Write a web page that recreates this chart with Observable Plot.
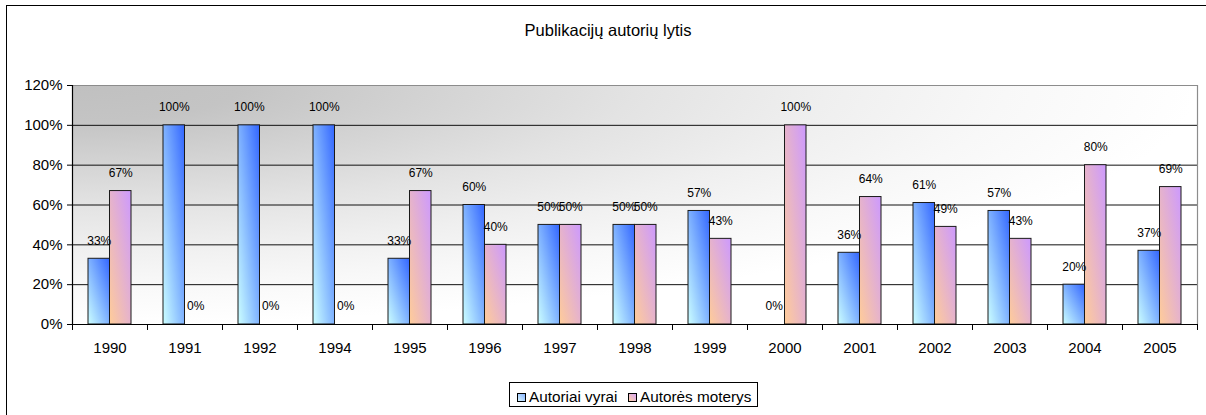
<!DOCTYPE html>
<html>
<head>
<meta charset="utf-8">
<script src="https://cdn.jsdelivr.net/npm/d3@7"></script>
<script src="https://cdn.jsdelivr.net/npm/@observablehq/plot@0.6"></script>
<style>
  body { margin: 0; background: #fff; font-family: "Liberation Sans", Arial, sans-serif; }
  #wrap { position: relative; width: 1206px; height: 415px; overflow: hidden; background: #fff; }
  #chart { position: absolute; left: 0; top: 0; }
  #border { position: absolute; left: 6px; top: 5px; width: 1215px; height: 425px; border: 1.5px solid #000; box-sizing: border-box; pointer-events: none; z-index: 3; }
  #title { position: absolute; left: 0; top: 22px; width: 1216px; text-align: center; font-size: 16.5px; line-height: 16.5px; color: #000; z-index: 2; }
  #legend { position: absolute; left: 509px; top: 382px; width: 249px; height: 25px; border: 1px solid #000; box-sizing: border-box; background: #fff; z-index: 2; }
  .sw { position: absolute; top: 10px; width: 9px; height: 9px; border: 1px solid #000; box-sizing: border-box; }
  .lt { position: absolute; top: 6px; font-size: 15.3px; line-height: 15.3px; white-space: nowrap; color: #000; }
</style>
</head>
<body>
<div id="wrap">
  <div id="chart"></div>
  <div id="title"></div>
  <div id="legend">
    <div class="sw" style="left:7px;background:linear-gradient(45deg,#d6f4ff,#88b4ff);"></div>
    <div class="lt" id="l1" style="left:19px;"></div>
    <div class="sw" style="left:118px;background:linear-gradient(45deg,#ffd0a8,#d8a8f4);"></div>
    <div class="lt" id="l2" style="left:130px;"></div>
  </div>
  <div id="border"></div>
</div>
<script>
// ---- data ----
const title = "Publikacijų autorių lytis";
const seriesNames = ["Autoriai vyrai", "Autorės moterys"];
const years = ["1990","1991","1992","1994","1995","1996","1997","1998","1999","2000","2001","2002","2003","2004","2005"];
const men   = [33, 100, 100, 100, 33, 60, 50, 50, 57, 0, 36, 61, 57, 20, 37];
const women = [67, 0, 0, 0, 67, 40, 50, 50, 43, 100, 64, 49, 43, 80, 69];
const yTicks = [0, 20, 40, 60, 80, 100, 120];
const gridValues = [20, 40, 60, 80, 100];

const data = years.map((y, i) => ({year: y, men: men[i], women: women[i]}));

document.getElementById("title").textContent = title;
document.getElementById("l1").textContent = seriesNames[0];
document.getElementById("l2").textContent = seriesNames[1];

const W = 1206, H = 415;
const mL = 72, mR = 9, mT = 85, mB = 91;
const step = (W - mL - mR) / years.length;   // 75
const half = step / 2;
const pIn = 0.4267, pOut = pIn / 2;
const bw = step * (1 - pIn);
const off = bw / 4;

const chart = Plot.plot({
  width: W,
  height: H,
  marginLeft: mL,
  marginRight: mR,
  marginTop: mT,
  marginBottom: mB,
  style: {background: "transparent", fontFamily: "'Liberation Sans', Arial, sans-serif", color: "#000"},
  x: {type: "band", domain: years, paddingInner: pIn, paddingOuter: pOut, align: 0.5, label: null},
  y: {domain: [0, 120], range: [H - mB, mT], label: null},
  marks: [
    Plot.frame({fill: "url(#bgGrad)", stroke: "none"}),
    Plot.ruleY(gridValues, {stroke: "#111", strokeWidth: 1}),
    Plot.ruleY([120], {stroke: "#8c8c8c", strokeWidth: 1.2}),
    Plot.ruleX([years[years.length - 1]], {dx: half, y1: 0, y2: 120, stroke: "#8c8c8c", strokeWidth: 1.2}),
    Plot.barY(data.filter(d => d.men > 0), {x: "year", y: "men", insetRight: bw / 2, fill: "url(#gMen)", stroke: "#1a1a1a", strokeWidth: 1}),
    Plot.barY(data.filter(d => d.women > 0), {x: "year", y: "women", insetLeft: bw / 2, fill: "url(#gWomen)", stroke: "#1a1a1a", strokeWidth: 1}),
    Plot.text(data, {x: "year", y: "men", text: d => d.men + "%", dx: -off, dy: -18, fontSize: 12, fill: "#000"}),
    Plot.text(data, {x: "year", y: "women", text: d => d.women + "%", dx: off, dy: -18, fontSize: 12, fill: "#000"}),
    Plot.ruleX([years[0]], {dx: -half, y1: 0, y2: 120, stroke: "#000", strokeWidth: 1.2}),
    Plot.ruleY([0], {stroke: "#000", strokeWidth: 1.2}),
    Plot.ruleX(years, {dx: -half, y1: 0, y2: -3, stroke: "#000"}),
    Plot.ruleX([years[years.length - 1]], {dx: half, y1: 0, y2: -3, stroke: "#000"}),
    Plot.axisY({ticks: yTicks, tickFormat: d => d + "%", tickSize: 5, tickPadding: 5, fontSize: 15, label: null}),
    Plot.axisX({tickSize: 0, tickPadding: 18, fontSize: 15, label: null})
  ]
});

const ns = "http://www.w3.org/2000/svg";
const defs = document.createElementNS(ns, "defs");
defs.innerHTML = `
  <radialGradient id="bgGrad" gradientUnits="objectBoundingBox" cx="0" cy="0" r="1" fx="0" fy="0">
    <stop offset="0" stop-color="#c0c0c0"/>
    <stop offset="0.15" stop-color="#c4c4c4"/>
    <stop offset="0.33" stop-color="#d4d4d4"/>
    <stop offset="0.5" stop-color="#e3e3e3"/>
    <stop offset="0.67" stop-color="#efefef"/>
    <stop offset="0.83" stop-color="#f8f8f8"/>
    <stop offset="1" stop-color="#ffffff"/>
  </radialGradient>
  <linearGradient id="gMen" x1="0" y1="1" x2="1" y2="0">
    <stop offset="0" stop-color="#ccffff"/>
    <stop offset="1" stop-color="#3366ff"/>
  </linearGradient>
  <linearGradient id="gWomen" x1="0" y1="1" x2="1" y2="0">
    <stop offset="0" stop-color="#ffcc99"/>
    <stop offset="1" stop-color="#cc99ff"/>
  </linearGradient>`;
chart.insertBefore(defs, chart.firstChild);
document.getElementById("chart").appendChild(chart);
</script>
</body>
</html>
